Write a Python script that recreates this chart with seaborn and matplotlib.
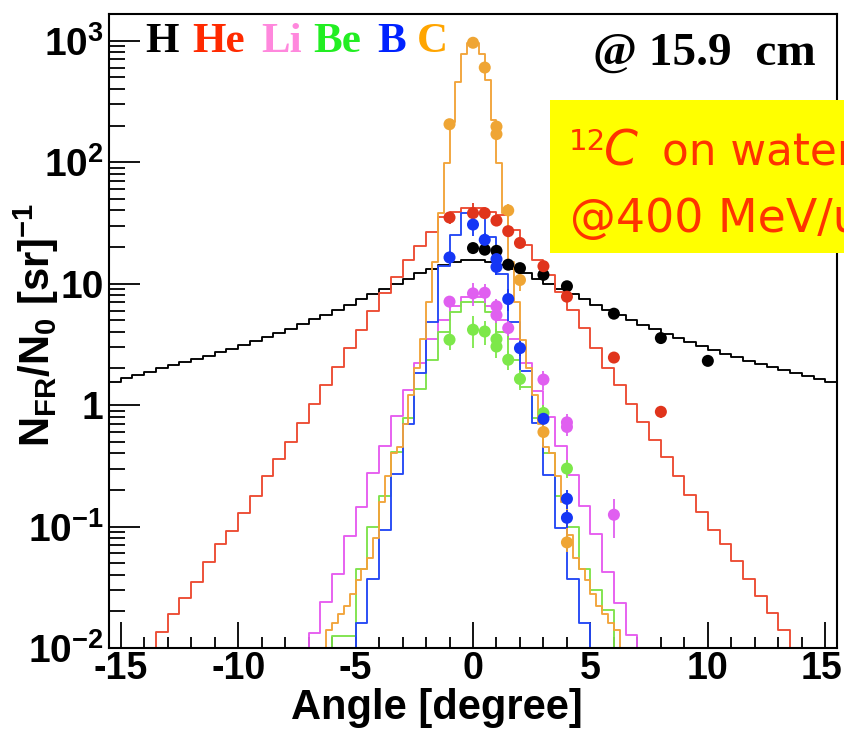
import numpy as np
import pandas as pd
import matplotlib
matplotlib.use("Agg")
import matplotlib.pyplot as plt
import seaborn as sns
from matplotlib.patches import Rectangle
from matplotlib.transforms import ScaledTranslation
from matplotlib.ticker import FixedLocator, FixedFormatter, NullFormatter

# ---------------- data ----------------
x_lo, x_hi = -15.5, 15.5
y_lo, y_hi = 0.01, 1656

# histograms: start angle of first listed bin, bin width, bin contents
h_start, h_width = -15.5, 0.5
h_vals = [1.56, 1.66, 1.77, 1.88, 2.0, 2.12, 2.25, 2.4, 2.55, 2.72, 2.92, 3.13, 3.35, 3.6, 3.9, 4.25,
          4.65, 5.1, 5.55, 6.05, 6.7, 7.4, 8.2, 9.0, 10.0, 11.0, 12.2, 13.3, 14.3, 15.0, 15.6,
          15.6, 15.0, 14.3, 13.3, 12.2, 11.0, 10.0, 9.0, 8.2, 7.4, 6.7, 6.05, 5.5, 5.05, 4.6, 4.2,
          3.85, 3.55, 3.3, 3.05, 2.85, 2.65, 2.48, 2.32, 2.18, 2.05, 1.93, 1.82, 1.72, 1.63, 1.56]

he_start, he_width = -13.5, 0.5
he_vals = [0.0135, 0.019, 0.026, 0.035, 0.051, 0.072, 0.091, 0.13, 0.18, 0.26, 0.36, 0.50, 0.71,
           1.02, 1.46, 2.04, 2.97, 4.16, 5.9, 8.3, 11.4, 15.7, 20.2, 26.8, 35.6, 38.8, 42,
           42, 38.8, 36.6, 27.8, 20.8, 15.7, 11.8, 8.5, 6.1, 4.3, 2.95, 2.0, 1.45, 1.02, 0.72,
           0.52, 0.37, 0.26, 0.183, 0.131, 0.094, 0.072, 0.052, 0.037, 0.0266, 0.0195, 0.0140]

li_start, li_width = -7.0, 0.5
li_vals = [0.0132, 0.024, 0.041, 0.083, 0.144, 0.276, 0.46, 0.81, 1.34, 2.22, 3.5, 5.0, 6.5, 7.8,
           7.8, 6.5, 5.0, 3.5, 2.2, 1.3, 0.80, 0.46, 0.267, 0.147, 0.086, 0.042, 0.0235, 0.0127]

be_start, be_width = -6.0, 0.5
be_vals = [0.0125, 0.0125, 0.045, 0.10, 0.177, 0.41, 0.78, 1.35, 2.36, 4.0, 5.8, 7.0,
           7.0, 5.8, 4.0, 2.36, 1.42, 0.78, 0.40, 0.177, 0.10, 0.045, 0.030, 0.0207]

b_start, b_width = -5.0, 0.5
b_vals = [0.016, 0.037, 0.094, 0.27, 0.70, 1.85, 4.85, 14, 25, 38,
          38, 24, 12, 4.8, 1.9, 0.71, 0.267, 0.097, 0.037, 0.016]

c_start, c_width = -6.25, 0.25
c_vals = [0.014, 0.016, 0.019, 0.022, 0.028, 0.036, 0.045, 0.055, 0.08, 0.16, 0.26, 0.40, 0.45,
          0.70, 1.2, 2.0, 3.5, 7.0, 15, 38, 98, 215, 460, 780, 950,
          950, 780, 470, 220, 98, 38, 15, 7.0, 3.4, 2.0, 1.2, 0.70, 0.45, 0.40, 0.26, 0.16,
          0.085, 0.055, 0.045, 0.036, 0.028, 0.022, 0.019, 0.016, 0.014]

# measured points
h_px = [0, 0.5, 1, 1.5, 2, 3, 4, 6, 8, 10]
h_py = [19.6, 19.0, 18.6, 14.3, 13.4, 11.8, 9.5, 5.65, 3.56, 2.31]
h_pe = [1.5, 1.5, 1.5, 1.0, 1.0, 0.8, 0.6, 0.3, 0.2, 0.12]

he_px = [-1, 0, 0.5, 1, 1.5, 2, 3, 4, 6, 8]
he_py = [35, 38, 38, 33, 27, 21.6, 13.9, 7.8, 2.46, 0.88]
he_pe = [4, 8, 4, 3, 2.5, 2, 1.2, 0.7, 0.2, 0.1]

li_px = [-1, 0, 0.5, 1, 1, 1.5, 3, 4, 4, 6]
li_py = [7.1, 8.3, 8.4, 6.5, 5.5, 4.3, 1.62, 0.72, 0.66, 0.125]
li_pe = [0.8, 1.8, 1.5, 1.0, 0.8, 0.6, 0.3, 0.12, 0.1, 0.045]

be_px = [-1, 0, 0.5, 1, 1, 1.5, 2, 3, 4]
be_py = [3.45, 4.17, 4.03, 3.49, 3.03, 2.36, 1.64, 0.86, 0.30]
be_pe = [0.6, 1.2, 0.9, 0.7, 0.6, 0.4, 0.3, 0.15, 0.05]

b_px = [-1, 0, 0.5, 1, 1, 1.5, 2, 3, 4, 4]
b_py = [16.4, 30.6, 22.9, 15.9, 13.7, 7.45, 2.94, 0.77, 0.169, 0.118]
b_pe = [2, 6, 3, 2, 2, 1.5, 0.4, 0.1, 0.03, 0.02]

c_px = [-1, 0, 0.5, 1, 1, 1.5, 2, 3, 4]
c_py = [205, 960, 600, 196, 170, 40, 10.7, 0.60, 0.074]
c_pe = [15, 40, 30, 15, 15, 5, 2, 0.1, 0.012]

species = ["H", "He", "Li", "Be", "B", "C"]
label_colors = ["#000000", "#ff2a00", "#ff88dd", "#22ee22", "#0022ff", "#ffa500"]
hist_colors = ["#000000", "#ec4b33", "#e65cf0", "#7ee34b", "#2448f5", "#f2a43a"]
pt_colors = ["#000000", "#e0341c", "#e05ff0", "#7de84a", "#1536f5", "#efa534"]

y_tick_vals = [1e-2, 1e-1, 1, 10, 1e2, 1e3]
y_tick_labels = [r"$10^{-2}$", r"$10^{-1}$", "1", "10", r"$10^{2}$", r"$10^{3}$"]
x_tick_vals = [-15, -10, -5, 0, 5, 10, 15]
x_tick_labels = ["-15", "-10", "-5", "0", "5", "10", "15"]

# ---------------- figure ----------------
sns.set_theme(style="white")
plt.rcParams["font.family"] = ["Liberation Sans", "DejaVu Sans"]
plt.rcParams["mathtext.fontset"] = "custom"
plt.rcParams["mathtext.rm"] = "Liberation Sans:bold"
plt.rcParams["mathtext.it"] = "Liberation Sans:bold"
plt.rcParams["mathtext.bf"] = "Liberation Sans:bold"

W, H = 844, 730
fig = plt.figure(figsize=(W / 100, H / 100), dpi=100)
fig.patch.set_facecolor("white")
ax = fig.add_axes([109 / W, 82 / H, 728 / W, 634 / H])
ax.set_facecolor("white")


def full_hist(start, width, vals):
    edges = np.arange(x_lo, x_hi + width / 2, width)
    weights = np.zeros(len(edges) - 1)
    i0 = int(round((start - x_lo) / width))
    weights[i0:i0 + len(vals)] = vals
    centers = edges[:-1] + width / 2
    return pd.DataFrame({"angle": centers, "w": weights}), edges.tolist()


hists = [(h_start, h_width, h_vals), (he_start, he_width, he_vals), (li_start, li_width, li_vals),
         (be_start, be_width, be_vals), (b_start, b_width, b_vals), (c_start, c_width, c_vals)]
for (start, width, vals), col in zip(hists, hist_colors):
    df, edges = full_hist(start, width, vals)
    sns.histplot(data=df, x="angle", weights="w", bins=edges, element="step", fill=False,
                 color=col, linewidth=1.35, ax=ax, legend=False)

points = [(h_px, h_py, h_pe), (he_px, he_py, he_pe), (li_px, li_py, li_pe),
          (be_px, be_py, be_pe), (b_px, b_py, b_pe), (c_px, c_py, c_pe)]
for (px, py, pe), col in zip(points, pt_colors):
    ax.errorbar(px, py, yerr=pe, fmt="none", ecolor=col, elinewidth=1.3, capsize=0, zorder=4)
    sns.scatterplot(x=px, y=py, color=col, s=75, edgecolor="none", ax=ax, zorder=5, legend=False)

ax.set_yscale("log")
ax.set_xlim(x_lo, x_hi)
ax.set_ylim(y_lo, y_hi)
ax.set_xlabel("")
ax.set_ylabel("")

ax.xaxis.set_major_locator(FixedLocator(x_tick_vals))
ax.xaxis.set_major_formatter(FixedFormatter(x_tick_labels))
ax.xaxis.set_minor_locator(FixedLocator(np.arange(-15, 16, 1)))
ax.yaxis.set_major_locator(FixedLocator(y_tick_vals))
ax.yaxis.set_major_formatter(FixedFormatter(y_tick_labels))
minor_y = [m * 10.0 ** e for e in range(-2, 4) for m in range(2, 10)]
ax.yaxis.set_minor_locator(FixedLocator(minor_y))
ax.yaxis.set_minor_formatter(NullFormatter())

ax.tick_params(axis="both", which="both", direction="in", colors="black",
               top=False, right=False, bottom=True, left=True, width=1.3)
ax.tick_params(axis="x", which="major", length=19, pad=2.5, labelsize=27)
ax.tick_params(axis="x", which="minor", length=8)
ax.tick_params(axis="y", which="major", length=22, pad=4, labelsize=28)
ax.tick_params(axis="y", which="minor", length=11.5)
for lab in ax.get_xticklabels() + ax.get_yticklabels():
    lab.set_fontweight("bold")
for sp in ax.spines.values():
    sp.set_color("black")
    sp.set_linewidth(1.5)
    sp.set_visible(True)

# keep the last x tick label inside the canvas
last_lab = ax.xaxis.get_major_ticks()[-1].label1
last_lab.set_transform(last_lab.get_transform() + ScaledTranslation(-4 / 100, 0, fig.dpi_scale_trans))

# axis titles
fig.text(36 / W, 1 - 325 / H, r"$\mathbf{N_{FR}/N_{0}\ [sr]^{-1}}$", rotation=90,
         ha="center", va="center", fontsize=30, color="black")
fig.text(437 / W, 1 - 719 / H, "Angle [degree]", ha="center", va="baseline",
         fontsize=30, fontweight="bold", color="black")

# species labels
label_x = [145, 192, 261, 313, 377, 417]
for name, col, lx in zip(species, label_colors, label_x):
    fig.text(lx / W, 1 - 52 / H, name, color=col, fontsize=31, fontweight="bold",
             family=["Liberation Serif", "DejaVu Serif"], ha="left", va="baseline", zorder=6)

fig.text(593 / W, 1 - 65 / H, "@ 15.9  cm", color="black", fontsize=34, fontweight="bold",
         family=["Liberation Serif", "DejaVu Serif"], ha="left", va="baseline", zorder=6)

# yellow box
fig.add_artist(Rectangle((550 / W, 1 - 253 / H), 300 / W, 153 / H, transform=fig.transFigure,
                         facecolor="#ffff00", edgecolor="none", zorder=5))
red_txt = "#ff3300"
fig.text(569 / W, 1 - 150 / H, "12", color=red_txt, fontsize=21, ha="left", va="baseline",
         family=["DejaVu Sans"], zorder=6)
fig.text(604 / W, 1 - 165 / H, "C", color=red_txt, fontsize=35, style="italic", ha="left",
         va="baseline", family=["DejaVu Sans"], zorder=6)
fig.text(662 / W, 1 - 165 / H, "on water", color=red_txt, fontsize=31.5, ha="left",
         va="baseline", family=["DejaVu Sans"], zorder=6)
fig.text(570 / W, 1 - 232 / H, "@400 MeV/u", color=red_txt, fontsize=33, ha="left",
         va="baseline", family=["DejaVu Sans"], zorder=6)

fig.savefig("out.png", dpi=100, facecolor="white")
